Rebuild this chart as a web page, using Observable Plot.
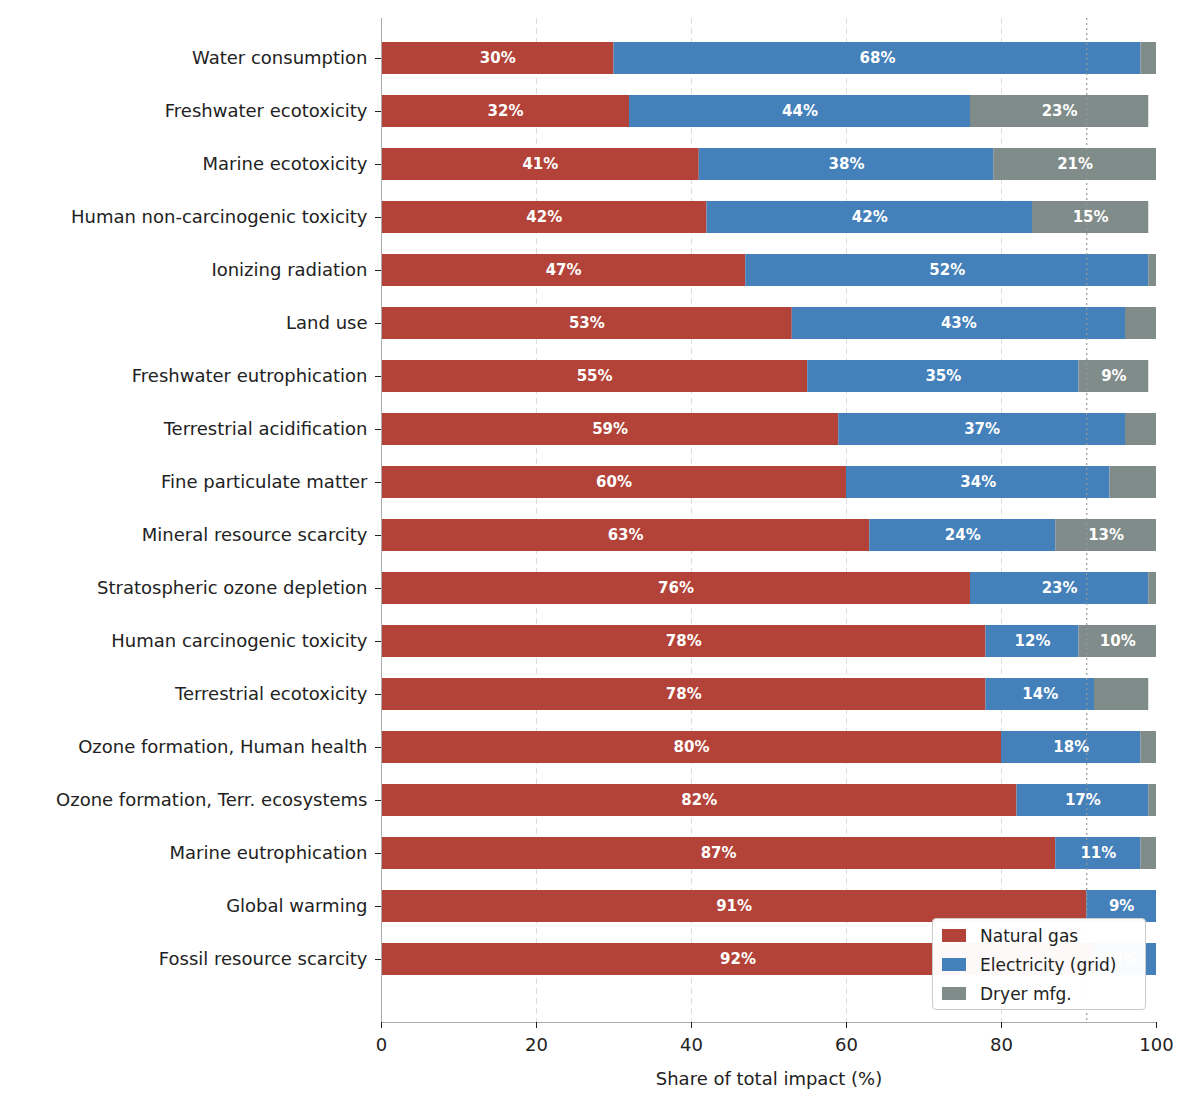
<!DOCTYPE html>
<html><head><meta charset="utf-8">
<script src="https://cdn.jsdelivr.net/npm/d3@7"></script>
<script src="https://cdn.jsdelivr.net/npm/@observablehq/plot@0.6"></script>
<style>
body{margin:0;background:#fff;font-family:"DejaVu Sans",sans-serif;}
#wrap{position:relative;width:1200px;height:1103px;}
#legend{position:absolute;left:932px;top:918px;width:214px;height:92px;border:1px solid #ccc;border-radius:4px;background:rgba(255,255,255,0.97);font-size:17px;color:#222;box-sizing:border-box;padding:2px 0 0 9px;}
#legend div{display:flex;align-items:center;height:29px;}
#legend span.sw{display:inline-block;width:24px;height:13px;margin-right:14px;}
</style></head>
<body><div id="wrap"><div id="chart"></div>
<div id="legend"></div></div>
<script>
const categories = ["Water consumption","Freshwater ecotoxicity","Marine ecotoxicity","Human non-carcinogenic toxicity","Ionizing radiation","Land use","Freshwater eutrophication","Terrestrial acidification","Fine particulate matter","Mineral resource scarcity","Stratospheric ozone depletion","Human carcinogenic toxicity","Terrestrial ecotoxicity","Ozone formation, Human health","Ozone formation, Terr. ecosystems","Marine eutrophication","Global warming","Fossil resource scarcity"];
const naturalGas = [30,32,41,42,47,53,55,59,60,63,76,78,78,80,82,87,91,92];
const electricity = [68,44,38,42,52,43,35,37,34,24,23,12,14,18,17,11,9,8];
const dryerMfg = [2,23,21,15,1,4,9,4,6,13,1,10,7,2,1,2,0,0];
const series = ["Natural gas","Electricity (grid)","Dryer mfg."];
const colors = ["#b34238","#4480b9","#7f8c8a"];
const refLine = 91;

const vals = [naturalGas, electricity, dryerMfg];
const data = [];
categories.forEach((c,i)=>series.forEach((s,j)=>data.push({cat:c, series:s, value:vals[j][i]})));

const chart = Plot.plot({
  width:1200, height:1103,
  marginLeft:381, marginRight:44, marginTop:18, marginBottom:81,
  style:{fontFamily:"DejaVu Sans, sans-serif", fontSize:"17px", color:"#222"},
  x:{domain:[0,100]},
  y:{domain:categories, paddingInner:0.4, paddingOuter:0, insetTop:24, insetBottom:47},
  color:{domain:series, range:colors},
  marks:[
    Plot.ruleX([20,40,60,80],{stroke:"#ddd", strokeDasharray:"6,4"}),
    Plot.barX(data, Plot.stackX({x:"value", y:"cat", fill:"series", order:series})),
    Plot.ruleX([refLine],{stroke:"#999", strokeDasharray:"2,3", strokeWidth:1.2}),
    Plot.text(data, Plot.stackX({x:"value", y:"cat", z:"series", order:series, filter:d=>d.value>=8, text:d=>d.value+"%", fill:"white", fontWeight:"bold", fontSize:15})),
    Plot.frame({anchor:"left", stroke:"#aaa"}),
    Plot.frame({anchor:"bottom", stroke:"#aaa"}),
    Plot.axisY({tickSize:6, tickPadding:8, fontSize:18, label:null}),
    Plot.axisX({ticks:[0,20,40,60,80,100], tickSize:6, tickPadding:10, fontSize:18, label:"Share of total impact (%)", labelAnchor:"center", labelArrow:"none", labelOffset:62})
  ]
});
document.getElementById("chart").append(chart);
const lg = document.getElementById("legend");
series.forEach((s,i)=>{const d=document.createElement("div");d.innerHTML=`<span class="sw" style="background:${colors[i]}"></span>${s}`;lg.append(d);});
</script></body></html>
